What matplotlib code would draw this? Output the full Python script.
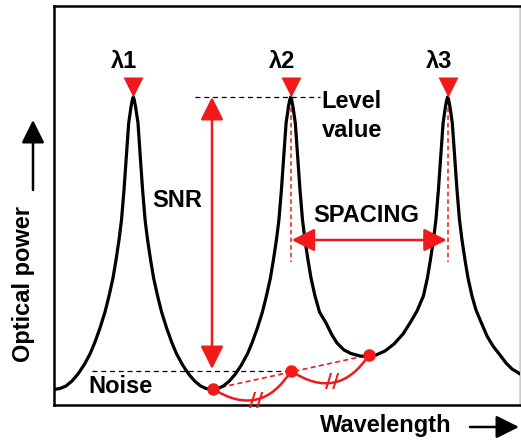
"""Spectrum diagram: three channel peaks with SNR, spacing and noise marks."""

import numpy as np
import matplotlib.pyplot as plt

# spectrum trace (arbitrary units)
wavelength = np.array([
    0, 6, 12, 18, 24, 30, 36, 41, 46, 51, 55, 59, 62, 65, 67.5, 70, 72.3, 74.7,
    77, 78.3, 79.3, 80.3, 81.6, 84, 86.3, 88.6, 91.1, 93.6, 96.6, 99.6, 103.6,
    107.6, 112.6, 117.6, 122.6, 128.6, 134.6, 140.6, 146.6, 152, 159,
    164, 169.4, 175.4, 181.4, 187.4, 193.4, 198.4, 203.4, 208.4, 212.4, 216.4,
    219.4, 222.4, 224.9, 227.4, 229.7, 232.1, 234.4, 235.7, 236.7, 237.7, 239,
    241.3, 243.7, 246, 248.5, 251, 254, 257, 261, 265.5, 272, 278, 283, 290,
    297, 306, 314, 322, 331, 340, 349, 356, 363, 369.4, 373.4, 376.4, 379.4,
    381.9, 384.4, 386.7, 389.1, 391.4, 392.7, 393.7, 394.7, 396, 398.3, 400.7,
    403, 405.5, 408, 411, 414, 418, 422, 427, 433, 439, 446, 452, 458, 463, 466,
])
power = np.array([
    15.5, 16.5, 19, 24, 31, 40, 51, 63, 77, 93, 109, 127, 145, 165, 185, 215,
    248, 282, 298, 305, 308, 305, 298, 282, 248, 215, 185, 165, 145, 127, 109,
    93, 77, 63, 51, 40, 31, 24, 19, 16.5, 15.5,
    16.5, 19, 24, 31, 40, 51, 63, 77, 93, 109, 127,
    145, 165, 185, 215, 248, 282, 298, 305, 308, 305, 298,
    282, 248, 215, 185, 165, 145, 127, 109, 93, 82, 70, 62, 55,
    51.5, 49, 48.5, 50, 54, 61, 71, 82, 94, 109, 127, 145, 165,
    185, 215, 248, 282, 298, 305, 308, 305, 298, 282, 248,
    215, 185, 165, 145, 127, 109, 95, 83, 69, 59, 50, 42, 36, 33, 31,
])

peak_labels = ["λ1", "λ2", "λ3"]
peak_wavelength = [79.3, 236.7, 393.7]
peak_level = 308

# valley minima and the interpolated noise under λ2
noise_wavelength = [159, 237, 315]
noise_power = [16, 34, 50]

RED = "#f01a1a"
FONT = dict(fontsize=17, fontweight="bold")


def draw_trace(ax):
    """Spectrum line, peak markers and channel labels."""
    ax.plot(wavelength, power, color="black", lw=2.3,
            solid_joinstyle="round", solid_capstyle="round", zorder=3)
    ax.plot(peak_wavelength, [peak_level + 10] * 3, "v", ms=14.4,
            color=RED, mec="none", zorder=4)
    for lbl, x in zip(peak_labels, peak_wavelength):
        ax.text(x - 9, peak_level + 29, lbl, ha="center", va="baseline", **FONT)


def draw_annotations(ax):
    """SNR / spacing arrows, dashed guides and the noise construction."""
    head = "<|-|>,head_length=1.0,head_width=0.5"
    arrow = dict(arrowstyle=head, color=RED, lw=1.8, mutation_scale=14,
                 shrinkA=0, shrinkB=0)

    # level and noise guides
    ax.plot([141, 266], [peak_level, peak_level], color="black", lw=0.9,
            ls=(0, (4, 3)), zorder=2)
    ax.plot([38, noise_wavelength[1]], [noise_power[1], noise_power[1]],
            color="black", lw=0.9, ls=(0, (4, 3)), zorder=2)

    # SNR
    ax.annotate("", xy=(158, peak_level), xytext=(158, noise_power[1] + 2),
                arrowprops=arrow, zorder=5)
    ax.text(98, 198, "SNR", ha="left", va="baseline", **FONT)

    # spacing between λ2 and λ3
    for x in peak_wavelength[1:]:
        ax.plot([x, x], [peak_level - 3, 143], color=RED, lw=1.1,
                ls=(0, (3, 2)), zorder=2)
    ax.annotate("", xy=(peak_wavelength[2] - 1, 165),
                xytext=(peak_wavelength[1] + 1, 165), arrowprops=arrow, zorder=5)
    ax.text(259, 183, "SPACING", ha="left", va="baseline", **FONT)

    ax.text(267.7, 297, "Level", ha="left", va="baseline", **FONT)
    ax.text(267.7, 268, "value", ha="left", va="baseline", **FONT)
    ax.text(34, 12, "Noise", ha="left", va="baseline", **FONT)

    # noise interpolation between valley minima
    ax.plot([noise_wavelength[0], noise_wavelength[2]],
            [noise_power[0], noise_power[2]], color=RED, lw=1.2,
            ls=(0, (3, 2)), zorder=2)
    arc = dict(arrowstyle="-", connectionstyle="arc3,rad=0.5", color=RED,
               lw=1.8, shrinkA=0, shrinkB=0)
    for i in range(2):
        ax.annotate("", xy=(noise_wavelength[i + 1], noise_power[i + 1]),
                    xytext=(noise_wavelength[i], noise_power[i]),
                    arrowprops=arc, zorder=4)
    # equal-distance ticks on the arcs
    for x, y in [(202, 4), (278, 23.5)]:
        ax.text(x, y, "//", color=RED, fontsize=14, fontweight="bold",
                ha="center", va="center", family="DejaVu Sans", zorder=5)
    ax.plot(noise_wavelength, noise_power, "o", ms=9, color=RED, mec="none",
            zorder=6)


def main():
    plt.rcParams["font.family"] = ["Liberation Sans", "DejaVu Sans"]
    fig = plt.figure(figsize=(5.21, 4.43), dpi=100)
    ax = fig.add_axes([54 / 521, 38 / 443, 466 / 521, 399 / 443])
    ax.set_xlim(0, 466)
    ax.set_ylim(0, 399)
    ax.set_xticks([])
    ax.set_yticks([])
    for side, spine in ax.spines.items():
        spine.set_linewidth(1.8)
    ax.spines["right"].set_color("#cccccc")

    draw_trace(ax)
    draw_annotations(ax)

    # axis titles with their arrows
    fig.text(30 / 521, 0.359, "Optical power", rotation=90,
             rotation_mode="anchor", ha="center", va="baseline", **FONT)
    fig.text(320 / 521, 11 / 443, "Wavelength", ha="left", va="baseline", **FONT)
    axis_arrow = dict(arrowstyle="-|>,head_length=1.0,head_width=0.5",
                      color="black", lw=1.8, mutation_scale=14,
                      shrinkA=0, shrinkB=0)
    ax.annotate("", xy=(33 / 521, 323 / 443), xytext=(33 / 521, 253 / 443),
                xycoords="figure fraction", textcoords="figure fraction",
                arrowprops=axis_arrow, annotation_clip=False)
    ax.annotate("", xy=(519 / 521, 16 / 443), xytext=(470 / 521, 16 / 443),
                xycoords="figure fraction", textcoords="figure fraction",
                arrowprops=axis_arrow, annotation_clip=False)

    fig.savefig("out.png", dpi=100)


if __name__ == "__main__":
    main()
